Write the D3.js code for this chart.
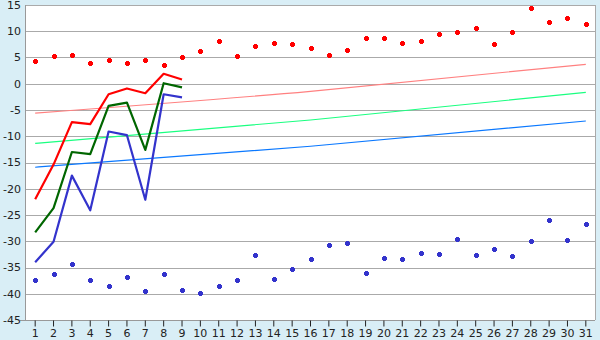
<!DOCTYPE html>
<html>
<head>
<meta charset="utf-8">
<script src="https://cdn.jsdelivr.net/npm/d3@7/dist/d3.min.js"></script>
<style>
  html, body { margin: 0; padding: 0; background: #d9eef6; }
  svg { display: block; }
  text { font-family: "DejaVu Sans", Verdana, sans-serif; font-size: 11px; fill: #222; }
</style>
</head>
<body>
<svg id="chart" width="600" height="340"></svg>
<script>
// categories (day of month)
const days = [1,2,3,4,5,6,7,8,9,10,11,12,13,14,15,16,17,18,19,20,21,22,23,24,25,26,27,28,29,30,31];
const yTicks = [-45,-40,-35,-30,-25,-20,-15,-10,-5,0,5,10,15];

// upper / lower scatter points
const highPts = [4.3,5.2,5.4,3.9,4.5,3.9,4.5,3.5,5.0,6.2,8.1,5.2,7.1,7.7,7.5,6.8,5.4,6.4,8.7,8.8,
                 7.7,8.1,9.4,9.8,10.6,7.5,9.8,14.4,11.7,12.5,11.3];
const lowPts = [-37.4,-36.3,-34.4,-37.3,-38.6,-36.9,-39.4,-36.3,-39.2,-39.9,-38.6,-37.4,-32.7,-37.1,-35.2,
                -33.4,-30.8,-30.4,-36.1,-33.2,-33.4,-32.3,-32.5,-29.6,-32.7,-31.5,-32.9,-30.0,-26.0,-29.8,-26.8];

// thick lines, first nine days
const redLine = [-22.0,-15.4,-7.3,-7.7,-2.0,-0.9,-1.8,1.9,0.8];
const greenLine = [-28.3,-23.7,-13.0,-13.4,-4.2,-3.6,-12.6,0.1,-0.7];
const blueLine = [-34.0,-30.1,-17.5,-24.1,-9.1,-9.8,-22.1,-2.0,-2.6];

// trend lines read at days 1, 16, 31
const trendDays = [1, 16, 31];
const pinkTrend = [-5.6, -1.45, 3.7];
const greenTrend = [-11.35, -6.9, -1.65];
const blueTrend = [-15.9, -11.9, -7.1];

const W = 600, H = 340;
const m = { left: 26, right: 5, top: 5, bottom: 20 };

const svg = d3.select("#chart");

const x = d3.scaleBand().domain(days).range([m.left, W - m.right]).padding(0);
const cx = (d) => x(d) + x.bandwidth() / 2;
const y = d3.scaleLinear().domain([-45, 15]).range([H - m.bottom, m.top]);

svg.append("rect")
  .attr("x", m.left).attr("y", m.top)
  .attr("width", W - m.left - m.right).attr("height", H - m.top - m.bottom)
  .attr("fill", "#fff");

// gridlines
svg.append("g")
  .selectAll("line")
  .data(yTicks)
  .join("line")
  .attr("x1", m.left).attr("x2", W - m.right)
  .attr("y1", (d) => Math.round(y(d)) + 0.5).attr("y2", (d) => Math.round(y(d)) + 0.5)
  .attr("stroke", "#aaa");

// frame
svg.append("line")
  .attr("x1", W - m.right + 0.5).attr("x2", W - m.right + 0.5)
  .attr("y1", m.top).attr("y2", H - m.bottom)
  .attr("stroke", "#aaa");
svg.append("line")
  .attr("x1", m.left - 0.5).attr("x2", m.left - 0.5)
  .attr("y1", m.top).attr("y2", H - m.bottom + 0.5)
  .attr("stroke", "#999");
svg.append("line")
  .attr("x1", m.left - 6).attr("x2", W - m.right)
  .attr("y1", H - m.bottom + 0.5).attr("y2", H - m.bottom + 0.5)
  .attr("stroke", "#999");

// x axis
const xAxis = d3.axisBottom(x).tickSize(6).tickSizeOuter(0).tickPadding(3);
const gx = svg.append("g").attr("transform", `translate(0,${H - m.bottom + 0.5})`).call(xAxis);
gx.select(".domain").remove();
gx.selectAll(".tick line").attr("stroke", "#222");
gx.selectAll(".tick text").attr("font-size", 11).attr("fill", "#222")
  .attr("font-family", "DejaVu Sans, Verdana, sans-serif");

// y axis labels
svg.append("g")
  .selectAll("text")
  .data(yTicks)
  .join("text")
  .attr("x", m.left - 5)
  .attr("y", (d) => y(d))
  .attr("dy", "0.36em")
  .attr("text-anchor", "end")
  .text((d) => String(d));

// trend lines
const trendLine = d3.line()
  .x((d, i) => cx(trendDays[i]))
  .y((d) => y(d))
  .curve(d3.curveNatural);
[[pinkTrend, "#ff8080"], [greenTrend, "#1aff80"], [blueTrend, "#0a78ff"]].forEach(([vals, col]) => {
  svg.append("path")
    .datum(vals)
    .attr("fill", "none")
    .attr("stroke", col)
    .attr("stroke-width", 1.2)
    .attr("d", trendLine);
});

// thick lines
const thick = d3.line()
  .x((d, i) => cx(days[i]))
  .y((d) => y(d));
[[redLine, "#ff0000"], [greenLine, "#006600"], [blueLine, "#3333cc"]].forEach(([vals, col]) => {
  svg.append("path")
    .datum(vals)
    .attr("fill", "none")
    .attr("stroke", col)
    .attr("stroke-width", 2.2)
    .attr("stroke-linejoin", "round")
    .attr("d", thick);
});

// plus markers (crisp 5x5 with cut corners)
function plus(px, py) {
  const X = Math.round(px) - 2, Y = Math.round(py) - 2;
  return `M${X},${Y + 1}h5v3h-5Z M${X + 1},${Y}h3v5h-3Z`;
}
[[highPts, "#ff0000"], [lowPts, "#3333cc"]].forEach(([vals, col]) => {
  svg.append("g")
    .attr("shape-rendering", "crispEdges")
    .selectAll("path")
    .data(vals)
    .join("path")
    .attr("d", (d, i) => plus(cx(days[i]), y(d)))
    .attr("fill", col);
});
</script>
</body>
</html>
